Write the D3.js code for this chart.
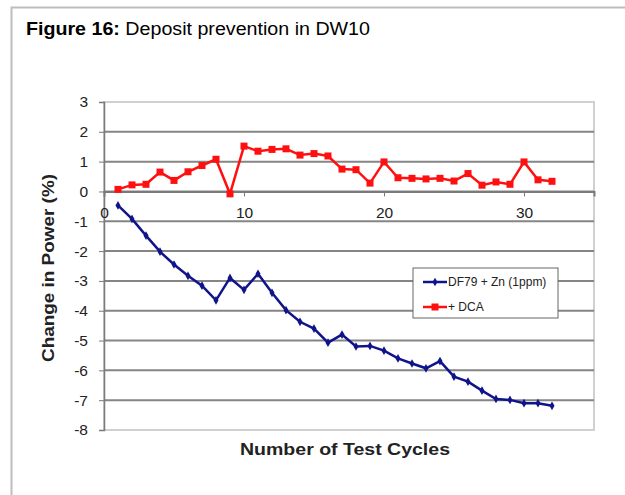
<!DOCTYPE html>
<html>
<head>
<meta charset="utf-8">
<script src="https://cdn.jsdelivr.net/npm/d3@7"></script>
<style>
  body { margin: 0; background: #fff; }
  svg { display: block; font-family: Arial, "Liberation Sans", sans-serif; }
</style>
</head>
<body>
<div id="chart"></div>
<script>
// test cycles and the two series
var cycles = d3.range(1, 33);
var zincSeries = [-0.47, -0.92, -1.48, -2.02, -2.45, -2.83, -3.16, -3.65, -2.9, -3.3,
                  -2.76, -3.4, -3.98, -4.37, -4.6, -5.07, -4.8, -5.2, -5.18, -5.34,
                  -5.6, -5.77, -5.93, -5.69, -6.21, -6.38, -6.68, -6.96, -6.99, -7.1,
                  -7.1, -7.19];
var dcaSeries = [0.07, 0.22, 0.24, 0.65, 0.37, 0.66, 0.87, 1.08, -0.08, 1.52,
                 1.35, 1.41, 1.43, 1.22, 1.27, 1.19, 0.75, 0.73, 0.28, 0.99,
                 0.46, 0.44, 0.42, 0.44, 0.35, 0.6, 0.21, 0.32, 0.24, 0.99,
                 0.39, 0.34];
var seriesNames = ["DF79 + Zn (1ppm)", "+ DCA"];
var yTicks = [3, 2, 1, 0, -1, -2, -3, -4, -5, -6, -7, -8];
var xTicks = [0, 10, 20, 30];

var width = 625,
    height = 495;

var svg = d3.select("#chart").append("svg")
    .attr("width", width)
    .attr("height", height);

// outer frame (left and top only visible)
svg.append("path")
    .attr("d", "M11.5,495 L11.5,7.5 L625,7.5")
    .attr("fill", "none")
    .attr("stroke", "#bdbdbd")
    .attr("stroke-width", 2);

// title (source image is a bit stretched sideways)
var title = svg.append("text")
    .attr("x", 26)
    .attr("y", 35)
    .attr("textLength", 344)
    .attr("lengthAdjust", "spacingAndGlyphs")
    .style("font-size", "18px")
    .attr("fill", "#000");
title.append("tspan").style("font-weight", "bold").text("Figure 16:");
title.append("tspan").text(" Deposit prevention in DW10");

var plotL = 104, plotR = 594, plotT = 102, plotB = 430;

var x = d3.scaleLinear().domain([0, 35]).range([plotL, plotR]);
var y = d3.scaleLinear().domain([-8, 3]).range([plotB, plotT]);

// plot area border
svg.append("rect")
    .attr("x", plotL)
    .attr("y", plotT)
    .attr("width", plotR - plotL)
    .attr("height", plotB - plotT)
    .attr("fill", "none")
    .attr("stroke", "#d0d0d0")
    .attr("stroke-width", 2);

// gridlines
svg.append("g")
    .selectAll("line")
    .data(yTicks.filter(function(d) { return d < 3 && d > -8; }))
    .enter().append("line")
    .attr("x1", plotL)
    .attr("x2", plotR)
    .attr("y1", function(d) { return y(d); })
    .attr("y2", function(d) { return y(d); })
    .attr("stroke", "#858585")
    .attr("stroke-width", 2);

// y axis
var yAxis = svg.append("g")
    .attr("transform", "translate(" + plotL + ",0)")
    .call(d3.axisLeft(y).tickValues(yTicks).tickSize(5).tickPadding(11)
      .tickFormat(function(d) { return d < 0 ? "-" + Math.abs(d) : d; }));
yAxis.select(".domain").attr("stroke", "#7a7a7a").attr("stroke-width", 1.5);
yAxis.selectAll(".tick line").attr("stroke", "#7a7a7a");
yAxis.selectAll("text")
    .style("font-size", "15.5px")
    .attr("fill", "#222");

// x axis sits at zero
var xAxis = svg.append("g")
    .attr("transform", "translate(0," + y(0) + ")")
    .call(d3.axisBottom(x).tickValues(xTicks).tickSize(5).tickPadding(11));
xAxis.select(".domain").attr("stroke", "#7a7a7a").attr("stroke-width", 2);
xAxis.selectAll(".tick line").attr("stroke", "#7a7a7a");
xAxis.selectAll("text")
    .style("font-size", "15.5px")
    .attr("fill", "#222");

// axis titles
svg.append("text")
    .attr("transform", "translate(54,268) rotate(-90)")
    .attr("text-anchor", "middle")
    .attr("textLength", 188)
    .attr("lengthAdjust", "spacingAndGlyphs")
    .style("font-size", "17px")
    .style("font-weight", "bold")
    .attr("fill", "#222")
    .text("Change in Power (%)");

svg.append("text")
    .attr("x", 345)
    .attr("y", 455)
    .attr("text-anchor", "middle")
    .attr("textLength", 210)
    .attr("lengthAdjust", "spacingAndGlyphs")
    .style("font-size", "17px")
    .style("font-weight", "bold")
    .attr("fill", "#222")
    .text("Number of Test Cycles");

var line = d3.line()
    .x(function(d) { return x(d[0]); })
    .y(function(d) { return y(d[1]); });

var zincPts = cycles.map(function(c, i) { return [c, zincSeries[i]]; });
var dcaPts = cycles.map(function(c, i) { return [c, dcaSeries[i]]; });

// DCA series (red squares)
svg.append("path")
    .datum(dcaPts)
    .attr("d", line)
    .attr("fill", "none")
    .attr("stroke", "#ff1010")
    .attr("stroke-width", 2.5);
svg.append("g")
    .selectAll("rect")
    .data(dcaPts)
    .enter().append("rect")
    .attr("x", function(d) { return x(d[0]) - 3.5; })
    .attr("y", function(d) { return y(d[1]) - 3.5; })
    .attr("width", 7)
    .attr("height", 7)
    .attr("fill", "#ff1010");

// zinc series (navy diamonds)
svg.append("path")
    .datum(zincPts)
    .attr("d", line)
    .attr("fill", "none")
    .attr("stroke", "#10148a")
    .attr("stroke-width", 2.5);
svg.append("g")
    .selectAll("path")
    .data(zincPts)
    .enter().append("path")
    .attr("d", d3.symbol().type(d3.symbolDiamond).size(22))
    .attr("transform", function(d) { return "translate(" + x(d[0]) + "," + y(d[1]) + ")"; })
    .attr("fill", "#10148a");

// legend
var legend = svg.append("g").attr("transform", "translate(413,268)");
legend.append("rect")
    .attr("width", 145)
    .attr("height", 50)
    .attr("fill", "#fff")
    .attr("stroke", "#666")
    .attr("stroke-width", 1);

var legColors = ["#10148a", "#ff1010"];
seriesNames.forEach(function(name, i) {
  var ly = 14 + i * 25;
  legend.append("line")
    .attr("x1", 10).attr("x2", 34)
    .attr("y1", ly).attr("y2", ly)
    .attr("stroke", legColors[i])
    .attr("stroke-width", 2.5);
  if (i == 0) {
    legend.append("path")
      .attr("d", d3.symbol().type(d3.symbolDiamond).size(22))
      .attr("transform", "translate(22," + ly + ")")
      .attr("fill", legColors[i]);
  } else {
    legend.append("rect")
      .attr("x", 18.5).attr("y", ly - 3.5)
      .attr("width", 7).attr("height", 7)
      .attr("fill", legColors[i]);
  }
  legend.append("text")
    .attr("x", 35)
    .attr("y", ly + 4)
    .style("font-size", "12px")
    .attr("fill", "#222")
    .text(name);
});
</script>
</body>
</html>
